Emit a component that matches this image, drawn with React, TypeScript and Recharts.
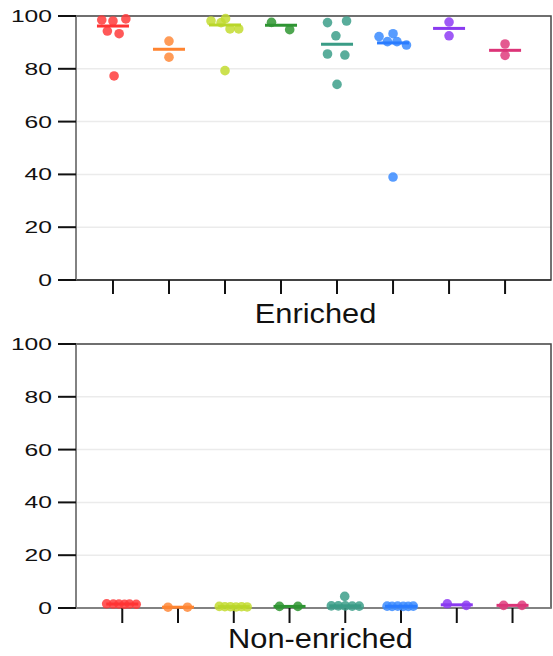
import {
    CartesianGrid,
    ReferenceArea,
    Scatter,
    ScatterChart,
    XAxis,
    YAxis,
} from "recharts";

const categories = [1, 2, 3, 4, 5, 6, 7, 8];
const colores = ["#ff3b3b", "#ff8a3a", "#c3dc30", "#2f9631", "#3c9f89", "#3a8bff", "#8e3cf4", "#df3c7c"];
const coloresMediana = ["#ff3434", "#ff8430", "#b9d62a", "#2e9432", "#3a9c86", "#2a7cff", "#8a3af0", "#dc3478"];
const yTicks = [0, 20, 40, 60, 80, 100];

const enriquecidoValores = [
    [98.5, 98.1, 98.9, 94.3, 93.3, 77.3],
    [90.5, 84.4],
    [98.1, 97.5, 99.0, 95.1, 95.1, 79.3],
    [97.6, 94.8],
    [97.5, 98.1, 92.5, 85.6, 85.2, 74.1],
    [92.2, 93.3, 90.3, 90.3, 89.0, 39.0],
    [97.7, 92.5],
    [89.4, 85.1],
];
const enriquecidoDesvio = [
    [-0.2, 0.0, 0.23, -0.1, 0.11, 0.02],
    [0, 0],
    [-0.25, -0.07, 0.01, 0.09, 0.245, 0],
    [-0.17, 0.155],
    [-0.17, 0.17, -0.02, -0.17, 0.14, 0],
    [-0.25, 0, -0.1, 0.07, 0.24, 0],
    [0, 0],
    [0, 0],
];
const enriquecidoMediana = [96.2, 87.4, 96.6, 96.5, 89.3, 89.8, 95.3, 87.0];

const noEnriquecidoValores = [
    [1.6, 1.5, 1.5, 1.4, 1.5, 1.4],
    [0.3, 0.3],
    [0.6, 0.5, 0.5, 0.4, 0.5, 0.4],
    [0.6, 0.6],
    [0.8, 0.8, 0.8, 0.7, 0.7, 4.4],
    [0.7, 0.6, 0.7, 0.6, 0.6, 0.7],
    [1.6, 1.0],
    [1.0, 1.0],
];
const noEnriquecidoDesvio = [
    [-0.28, -0.16, -0.06, 0.04, 0.13, 0.25],
    [-0.18, 0.17],
    [-0.26, -0.16, -0.06, 0.04, 0.14, 0.24],
    [-0.18, 0.15],
    [-0.25, -0.125, 0, 0.125, 0.25, -0.01],
    [-0.25, -0.16, -0.06, 0.04, 0.13, 0.22],
    [-0.17, 0.17],
    [-0.16, 0.17],
];
const noEnriquecidoMediana = [1.5, 0.3, 0.5, 0.6, 0.8, 0.65, 1.2, 1.0];

const fuente = "'Liberation Sans', Arial, sans-serif";

function YTick(props: any) {
    const { x, y, payload } = props;
    return (
        <g transform={`translate(${x - 4},${y})`}>
            <text transform="scale(1.45,1)" textAnchor="end" dy="0.355em" fontSize={17} fontFamily={fuente} fill="#111">
                {payload.value}
            </text>
        </g>
    );
}

// sin texto: solo queremos la rayita del tick
function XTickVacio() {
    return <g />;
}

function TituloEje(props: any) {
    const { viewBox, texto, dx, dy } = props;
    const cx = viewBox.x + viewBox.width / 2 + dx;
    return (
        <g transform={`translate(${cx},${viewBox.y + dy}) scale(1.1,1)`}>
            <text textAnchor="middle" fontSize={28} fontFamily={fuente} fill="#111">
                {texto}
            </text>
        </g>
    );
}

function Punto(props: any) {
    const { cx, cy, fill } = props;
    return <circle cx={cx} cy={cy} r={4.8} fill={fill} fillOpacity={0.85} />;
}

function Mediana(props: any) {
    const { cx, cy, fill } = props;
    return <rect x={cx - 16} y={cy - 1.5} width={32} height={3} fill={fill} />;
}

type PanelProps = {
    valores: number[][];
    desvio: number[][];
    mediana: number[];
    dominio: [number, number];
    titulo: string;
    alto: number;
    margenSup: number;
    altoEje: number;
    tickX: number;
    tituloDx: number;
    tituloDy: number;
    colorEjeX: string;
};

function Panel({ valores, desvio, mediana, dominio, titulo, alto, margenSup, altoEje, tickX, tituloDx, tituloDy, colorEjeX }: PanelProps) {
    return (
        <ScatterChart width={553} height={alto} margin={{ top: margenSup, right: 2, bottom: 0, left: 0 }}>
            <CartesianGrid vertical={false} stroke="#ebebeb" strokeWidth={1.5} />
            <ReferenceArea x1={dominio[0]} x2={dominio[1]} y1={0} y2={100} fill="none" stroke="#444" strokeWidth={1.5} />
            <XAxis
                type="number"
                dataKey="x"
                domain={dominio}
                ticks={categories}
                allowDataOverflow
                height={altoEje}
                tick={<XTickVacio />}
                tickSize={tickX}
                tickLine={{ stroke: "#111", strokeWidth: 2 }}
                axisLine={{ stroke: colorEjeX, strokeWidth: 1.5 }}
                label={<TituloEje texto={titulo} dx={tituloDx} dy={tituloDy} />}
            />
            <YAxis
                type="number"
                dataKey="y"
                domain={[0, 100]}
                ticks={yTicks}
                width={76}
                tickSize={18}
                tick={<YTick />}
                tickLine={{ stroke: "#111", strokeWidth: 2 }}
                axisLine={{ stroke: "#888", strokeWidth: 1.5 }}
            />
            {categories.map((cat, i) => (
                <Scatter
                    key={"p" + cat}
                    data={valores[i].map((v, j) => ({ x: cat + desvio[i][j], y: v }))}
                    fill={colores[i]}
                    shape={<Punto />}
                    isAnimationActive={false}
                />
            ))}
            {categories.map((cat, i) => (
                <Scatter
                    key={"m" + cat}
                    data={[{ x: cat, y: mediana[i] }]}
                    fill={coloresMediana[i]}
                    shape={<Mediana />}
                    isAnimationActive={false}
                />
            ))}
        </ScatterChart>
    );
}

export default function App() {
    return (
        <div style={{ position: "absolute", left: 0, top: 0, width: 553, height: 656, background: "#fff" }}>
            <Panel
                valores={enriquecidoValores}
                desvio={enriquecidoDesvio}
                mediana={enriquecidoMediana}
                dominio={[0.34, 8.82]}
                titulo="Enriched"
                alto={330}
                margenSup={16}
                altoEje={50}
                tickX={14}
                tituloDx={2}
                tituloDy={43}
                colorEjeX="#333"
            />
            <Panel
                valores={noEnriquecidoValores}
                desvio={noEnriquecidoDesvio}
                mediana={noEnriquecidoMediana}
                dominio={[0.17, 8.69]}
                titulo="Non-enriched"
                alto={326}
                margenSup={14}
                altoEje={48}
                tickX={15}
                tituloDx={7}
                tituloDy={40}
                colorEjeX="#888"
            />
        </div>
    );
}
